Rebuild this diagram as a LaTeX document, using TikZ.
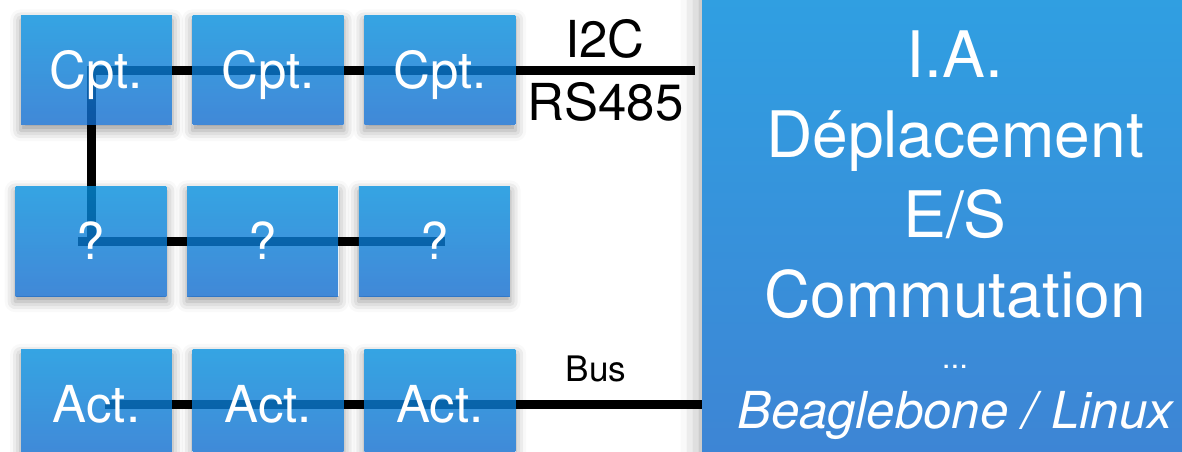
\documentclass[tikz,border=0pt]{standalone}
\usepackage{fontspec}
\setmainfont{TeX Gyre Heros}
\usetikzlibrary{positioning,backgrounds,shadows.blur}

\definecolor{boxtop}{HTML}{038EDC}
\definecolor{boxbot}{HTML}{126BCE}
\definecolor{cputop}{HTML}{2FA0E2}
\definecolor{cpubot}{HTML}{3E84D4}

\begin{document}
\begin{tikzpicture}[
    x=0.02cm, y=-0.02cm,
    node distance=0.4cm,
    box/.style={rectangle, top color=boxtop, bottom color=boxbot, fill opacity=0.8, text opacity=1, text=white,
        minimum width=3.02cm, minimum height=2.2cm, inner sep=0pt, text height=21pt, text depth=0pt,
        font=\fontsize{29}{34}\selectfont},
    cpu/.style={rectangle, top color=cputop, bottom color=cpubot, minimum width=9.96cm, minimum height=9.82cm, inner sep=0pt},
    cputext/.style={anchor=base, text=white, font=\fontsize{36.5}{44}\selectfont},
    bustext/.style={anchor=base, font=\fontsize{29}{34}\selectfont},
    wire/.style={line width=0.18cm, black},
    halo/.style={blur shadow={shadow xshift=0pt, shadow yshift=-3pt, shadow blur radius=#1, shadow opacity=40}, fill=white},
    halo/.default=6pt
]
\useasboundingbox (0,0) rectangle (1182,451);

\node[box] (cpt1) at (96.5,70) {Cpt.};
\node[box, right=of cpt1] (cpt2) {Cpt.};
\node[box, right=of cpt2] (cpt3) {Cpt.};
\node[box] (q1) at (91,241) {?};
\node[box, right=of q1] (q2) {?};
\node[box, right=of q2] (q3) {?};
\node[box] (act1) at (96.5,404.5) {Act.};
\node[box, right=of act1] (act2) {Act.};
\node[box, right=of act2] (act3) {Act.};

\node[cpu] (brain) at (951,225.5) {};
\node[cputext] (ia) at (955,77) {I.A.};
\node[cputext] (move) at (955,157) {Déplacement};
\node[cputext] (io) at (955,237) {E/S};
\node[cputext] (switch) at (955,317) {Commutation};
\node[cputext, font=\fontsize{18}{22}\selectfont] (dots) at (955,368) {...};
\node[cputext, font=\fontsize{29}{34}\selectfont\itshape] (board) at (955,428) {Beaglebone / Linux};

\node[bustext] (i2c) at (605,57) {I2C};
\node[bustext] (rs485) at (605.5,120) {RS485};
\node[bustext, font=\fontsize{20}{24}\selectfont] (bus) at (596,381) {Bus};

\begin{scope}[on background layer]
  \foreach \n in {cpt1,cpt2,cpt3,q1,q2,q3,act1,act2,act3}
    \path[halo] (\n.south west) rectangle (\n.north east);
  \path[halo=12pt] (brain.south west) rectangle (brain.north east);
  \draw[wire, shorten >=0.14cm] (q1.center) -- (q1.center |- cpt1.center) -- (brain.west |- cpt1.center);
  \draw[wire] ([xshift=-0.26cm]q1.center) -- ([xshift=0.22cm]q3.center);
  \draw[wire] ([xshift=0.17cm]act1.center) -- (act1.center -| brain.west);
\end{scope}
\end{tikzpicture}
\end{document}
